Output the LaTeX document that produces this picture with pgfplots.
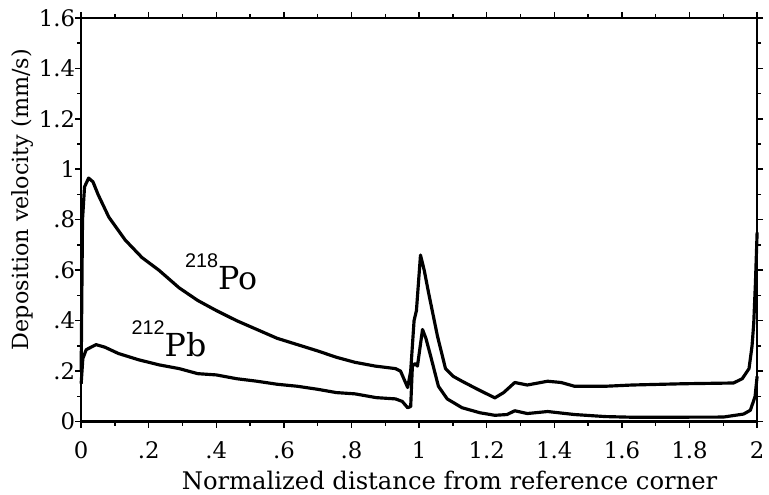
\documentclass[border=0pt]{standalone}
\usepackage{fontspec}
\setmainfont{DejaVu Serif}
\newfontfamily\supfont{Liberation Sans}
\usepackage{pgfplots}
\pgfplotsset{compat=1.18}

\pgfplotstableread{
x y
0 0.20
0.004 0.80
0.010 0.93
0.022 0.965
0.035 0.95
0.05 0.90
0.082 0.81
0.13 0.72
0.18 0.65
0.23 0.60
0.29 0.53
0.345 0.48
0.40 0.44
0.46 0.40
0.52 0.365
0.58 0.33
0.64 0.305
0.70 0.28
0.755 0.255
0.81 0.235
0.87 0.22
0.93 0.21
0.945 0.20
0.966 0.135
0.975 0.20
0.98 0.30
0.985 0.40
0.992 0.44
1.004 0.66
1.015 0.60
1.028 0.51
1.054 0.34
1.078 0.21
1.10 0.18
1.127 0.16
1.17 0.13
1.224 0.094
1.25 0.115
1.283 0.155
1.32 0.145
1.38 0.16
1.42 0.155
1.46 0.14
1.55 0.14
1.63 0.145
1.78 0.15
1.93 0.153
1.956 0.17
1.976 0.21
1.985 0.30
1.99 0.39
1.995 0.55
2.0 0.75
}\po

\pgfplotstableread{
x y
0 0.15
0.005 0.25
0.015 0.285
0.044 0.305
0.07 0.295
0.11 0.27
0.17 0.245
0.23 0.225
0.29 0.21
0.345 0.19
0.40 0.185
0.46 0.17
0.52 0.16
0.58 0.148
0.64 0.14
0.70 0.128
0.755 0.115
0.81 0.11
0.873 0.095
0.93 0.09
0.95 0.08
0.966 0.055
0.975 0.06
0.98 0.22
0.988 0.23
0.995 0.22
1.01 0.365
1.02 0.33
1.034 0.26
1.057 0.14
1.083 0.09
1.127 0.055
1.18 0.035
1.224 0.025
1.26 0.028
1.283 0.043
1.32 0.032
1.38 0.04
1.46 0.028
1.55 0.02
1.64 0.017
1.90 0.018
1.96 0.03
1.98 0.045
1.994 0.10
2.0 0.18
}\pb

\begin{document}
\begin{tikzpicture}
\begin{axis}[
    scale only axis,
    width=683pt, height=408pt,
    xmin=0, xmax=2, ymin=0, ymax=1.6,
    xtick={0,0.2,...,2.01},
    xticklabels={0,.2,.4,.6,.8,1,1.2,1.4,1.6,1.8,2},
    ytick={0,0.2,...,1.61},
    yticklabels={0,.2,.4,.6,.8,1,1.2,1.4,1.6},
    minor tick num=1,
    tick align=outside,
    major tick length=6pt, minor tick length=4pt,
    every tick/.style={line width=1.5pt, black},
    axis line style={line width=2.5pt},
    tick label style={font=\fontsize{23}{27}\selectfont},
    /pgf/number format/assume math mode=true,
    xticklabel style={yshift=-11pt},
    yticklabel style={xshift=3.5pt},
    xlabel={Normalized distance from reference corner},
    ylabel={Deposition velocity (mm/s)},
    xlabel style={font=\fontsize{24.5}{28}\selectfont,
        at={([yshift=-69pt]rel axis cs:0.545,0)}, anchor=base},
    ylabel style={font=\fontsize{22.5}{26}\selectfont,
        at={([xshift=-53pt]rel axis cs:0,0.55)}, anchor=base},
    clip=false,
]
\addplot[black, line width=3.2pt, line join=round] table[x=x, y=y] {\po};
\addplot[black, line width=3.2pt, line join=round] table[x=x, y=y] {\pb};
\node[anchor=base west, font=\fontsize{32}{36}\selectfont, inner sep=0pt] at (axis cs:0.307,0.525) {\raisebox{22pt}{\supfont\fontsize{20}{22}\selectfont 218}Po};
\node[anchor=base west, font=\fontsize{32}{36}\selectfont, inner sep=0pt] at (axis cs:0.149,0.259) {\raisebox{22pt}{\supfont\fontsize{20}{22}\selectfont 212}Pb};
\coordinate (sw) at (rel axis cs:0,0);
\coordinate (ne) at (rel axis cs:1,1);
\end{axis}
\pgfresetboundingbox
\path ([shift={(-82pt,-74pt)}]sw) rectangle ([shift={(12pt,18pt)}]ne);
\end{tikzpicture}
\end{document}
